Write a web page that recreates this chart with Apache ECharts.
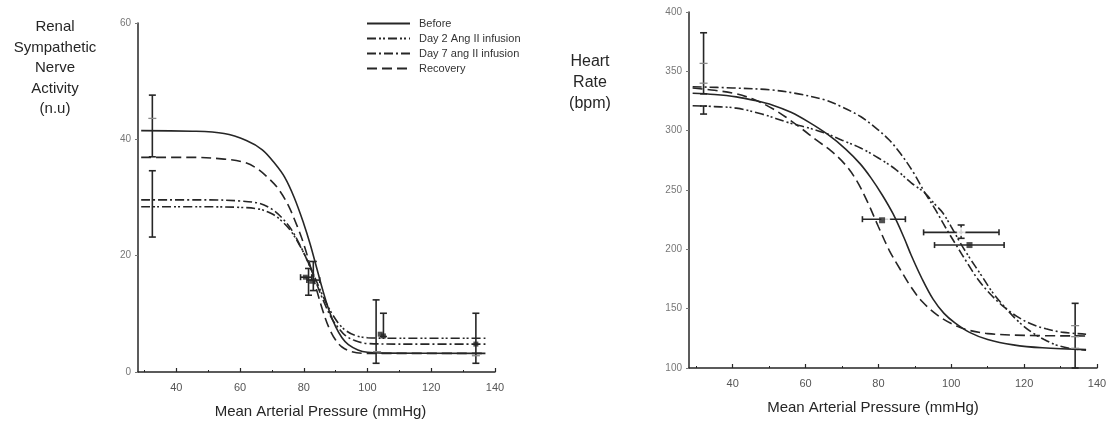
<!DOCTYPE html>
<html><head><meta charset="utf-8">
<script src="https://cdn.jsdelivr.net/npm/echarts@6/dist/echarts.min.js"></script>
<style>html,body{margin:0;padding:0;background:#fff}#c{width:1113px;height:426px}</style>
</head><body><div id="c"></div>
<script>
// ---------- names / ticks ----------
const seriesNames = ['Before', 'Day 2 Ang II infusion', 'Day 7 ang II infusion', 'Recovery'];
const xLabelTicks = [40, 60, 80, 100, 120, 140];
const xMinorTicks = [30, 50, 70, 90, 110, 130];
const rsnaRange = [0, 60, 20];
const hrRange = [100, 400, 50];
const xRange = [28, 140];

// ---------- Left chart: Renal Sympathetic Nerve Activity (n.u) ----------
const rsnaBefore = [[29,41.5],[45,41.4],[55,41],[62,39.8],[67,38.2],[71,35.8],[74,33.5],[77,30],[80,25.5],[82,22],[84,18],[86,14],[88,10.5],[90,7.8],[92,5.9],[94,4.7],[97,3.8],[100,3.4],[105,3.25],[137,3.2]];
const rsnaDay2 = [[29,28.4],[50,28.4],[60,28.3],[66,28],[70,27.2],[73,26],[76,24.2],[79,21.5],[81,19.3],[83,16.9],[85,14.3],[87,11.9],[89,9.9],[91,8.3],[93,7.2],[96,6.3],[100,5.9],[110,5.8],[137,5.8]];
const rsnaDay7 = [[29,29.6],[50,29.6],[60,29.4],[66,29],[70,28],[73,26.6],[76,24.6],[79,21.6],[81,19.3],[83,16.7],[85,13.8],[87,11.2],[89,9],[91,7.5],[93,6.3],[96,5.4],[100,4.9],[110,4.8],[137,4.8]];
const rsnaRecovery = [[29,36.9],[45,36.9],[55,36.6],[61,36.1],[65,35.1],[69,33.3],[72,31.5],[75,28.8],[78,25],[80,22],[82,18.3],[84,14.2],[86,10.5],[88,7.5],[90,5.5],[92,4.3],[95,3.5],[100,3.2],[137,3.2]];
// vertical error bars [x, low, high]
const rsnaVErr = [[32.5,37,47.6],[32.5,23.2,34.6],[81.5,13.2,17.8],[83,14,19],[102.7,1.5,12.4],[105,6.1,10.1],[134,1.5,10.1]];
// horizontal error bars [y, left, right]
const rsnaHErr = [[16.3,79,82.5],[15.8,81,85]];
// faint SEM caps [x, y]
const rsnaCaps = [[32.5,43.6],[103,3.5],[134,2.8]];
// group means [x, y]
const rsnaMeans = [[80.5,16.3],[82.5,15.6],[104,6.5],[105,6.2],[134,4.8]];

// ---------- Right chart: Heart Rate (bpm) ----------
const hrBefore = [[29,331.5],[35,330.5],[41,328.5],[46,325.5],[51,321.5],[56,315.5],[61,307],[66,297],[71,284.5],[75,272],[78,260],[81,246],[84,230],[87,210],[89,195],[92,175],[95,158],[98,146],[101,138],[105,130],[110,124],[117,119.5],[125,117],[137,115.5]];
const hrDay2 = [[29,321],[35,320.3],[41,319],[48,314],[55.6,306.5],[60,303],[65.3,298],[70,292],[75.1,285.4],[80,277],[84.8,267.2],[89,256],[92.7,247.6],[95.5,238],[97.6,231],[100,219],[102.4,205.8],[105,193],[108.3,177.8],[111.5,163],[115.1,149.9],[118.5,139],[122,130.3],[125.5,124],[128.8,119.4],[132.5,116.5],[137,115]];
const hrDay7 = [[29,337],[40,336],[50.7,334.3],[58,331],[65.3,325.9],[70,320],[75.1,311.9],[79,303],[82.9,292.3],[86,281],[89.7,264.3],[92.5,249],[95.6,233.6],[98.5,218],[101.5,202.8],[104.5,188],[107.3,174.8],[110.5,163],[114.1,152.4],[118,143.5],[122,137],[126,133],[130.8,130],[137,128.5]];
const hrRecovery = [[29,336],[35,334],[41,331],[46,326],[51,318.5],[55,310.5],[59,301.5],[63,292],[67,283],[71,271],[74,258],[77,240],[80,219],[83,199],[86,183],[89,168],[92,156],[96,145],[100,137.5],[104,132.5],[110,129],[120,127.5],[137,127]];
const hrVErr = [[32,331,382.5],[32,314,320.8],[102.7,209.3,220.5],[134,100,154.5]];
const hrHErr = [[225.4,75.6,87.4],[214.3,92.4,113.1],[203.6,95.4,114.5]];
const hrCaps = [[32,356.7],[32,340],[134,135.7],[134,126.4],[134,116.6]];
const hrMeansOpen = [[82,225.4],[102.7,214.9]];
const hrMeansFilled = [[81,224.5],[105,203.6]];

// ---------- styling ----------
const INK = '#262626';
const FONT = '"Liberation Sans", Arial, sans-serif';
const lineTypes = ['solid', [9,3,2,2,2,3], [9,3,2,3], [10,5]];

function vErrRender(params, api) {
  const x = api.value(0), lo = api.value(1), hi = api.value(2);
  const a = api.coord([x, lo]), b = api.coord([x, hi]);
  const w = 3.5, st = {stroke: INK, lineWidth: 1.6};
  return {type: 'group', children: [
    {type: 'line', shape: {x1: a[0], y1: a[1], x2: b[0], y2: b[1]}, style: st},
    {type: 'line', shape: {x1: a[0]-w, y1: a[1], x2: a[0]+w, y2: a[1]}, style: st},
    {type: 'line', shape: {x1: b[0]-w, y1: b[1], x2: b[0]+w, y2: b[1]}, style: st}
  ]};
}
function hErrRender(params, api) {
  const y = api.value(0), l = api.value(1), r = api.value(2);
  const a = api.coord([l, y]), b = api.coord([r, y]);
  const h = 3, st = {stroke: INK, lineWidth: 1.6};
  return {type: 'group', children: [
    {type: 'line', shape: {x1: a[0], y1: a[1], x2: b[0], y2: b[1]}, style: st},
    {type: 'line', shape: {x1: a[0], y1: a[1]-h, x2: a[0], y2: a[1]+h}, style: st},
    {type: 'line', shape: {x1: b[0], y1: b[1]-h, x2: b[0], y2: b[1]+h}, style: st}
  ]};
}
function capRender(params, api) {
  const p = api.coord([api.value(0), api.value(1)]);
  return {type: 'line', shape: {x1: p[0]-4, y1: p[1], x2: p[0]+4, y2: p[1]}, style: {stroke: '#8a8a8a', lineWidth: 1.3}};
}

function xAxesFor(gi, nameOffsetX) {
  return [
    {type: 'value', gridIndex: gi, position: 'bottom', min: xRange[0], max: xRange[1],
     name: 'Mean Arterial Pressure (mmHg)', nameLocation: 'middle', nameGap: 32,
     nameTextStyle: {fontFamily: FONT, fontSize: 15, color: INK, padding: [0, 0, 0, nameOffsetX]},
     axisLine: {show: true, lineStyle: {color: INK, width: 1.5}},
     axisTick: {show: true, inside: true, length: 4, customValues: xLabelTicks, lineStyle: {color: INK, width: 1.2}},
     axisLabel: {customValues: xLabelTicks, fontFamily: FONT, fontSize: 11, color: '#555', margin: 10},
     splitLine: {show: false}},
    {type: 'value', gridIndex: gi, position: 'bottom', offset: 0, min: xRange[0], max: xRange[1],
     axisLine: {show: false},
     axisTick: {show: true, inside: true, length: 2, customValues: xMinorTicks, lineStyle: {color: INK, width: 1}},
     axisLabel: {show: false}, splitLine: {show: false}}
  ];
}
function yAxisFor(gi, range) {
  return {type: 'value', gridIndex: gi, min: range[0], max: range[1], interval: range[2],
    axisLine: {show: true, lineStyle: {color: INK, width: 1.5}},
    axisTick: {show: true, inside: false, length: 3, lineStyle: {color: '#777', width: 1}},
    axisLabel: {fontFamily: FONT, fontSize: 10, color: '#777', margin: 7},
    splitLine: {show: false}};
}
function curve(name, data, idx, xi, yi) {
  return {type: 'line', name, data, xAxisIndex: xi, yAxisIndex: yi, smooth: 0.35,
    symbol: 'none', lineStyle: {color: INK, width: 1.6, type: lineTypes[idx]},
    itemStyle: {color: INK}, z: 3};
}

const option = {
  animation: false,
  backgroundColor: '#fff',
  textStyle: {fontFamily: FONT},
  grid: [
    {left: 138, right: 618, top: 23, bottom: 54},
    {left: 689, right: 16, top: 12, bottom: 58}
  ],
  xAxis: [...xAxesFor(0, 8), ...xAxesFor(1, -40)],
  yAxis: [yAxisFor(0, rsnaRange), yAxisFor(1, hrRange)],
  legend: {
    data: seriesNames, orient: 'vertical', left: 361, top: 13,
    itemWidth: 43, itemHeight: 10, itemGap: 4,
    itemStyle: {opacity: 0},
    textStyle: {fontFamily: FONT, fontSize: 11, color: '#333', padding: [0, 0, 0, 4]},
    selectedMode: false
  },
  graphic: [
    {type: 'text', x: 55, y: 17, style: {text: 'Renal\nSympathetic\nNerve\nActivity\n(n.u)', textAlign: 'center', textVerticalAlign: 'top', font: '15px ' + FONT, lineHeight: 20.5, fill: INK}},
    {type: 'text', x: 590, y: 51, style: {text: 'Heart\nRate\n(bpm)', textAlign: 'center', textVerticalAlign: 'top', font: '16px ' + FONT, lineHeight: 21, fill: INK}}
  ],
  series: [
    curve(seriesNames[0], rsnaBefore, 0, 0, 0),
    curve(seriesNames[1], rsnaDay2, 1, 0, 0),
    curve(seriesNames[2], rsnaDay7, 2, 0, 0),
    curve(seriesNames[3], rsnaRecovery, 3, 0, 0),
    curve(seriesNames[0], hrBefore, 0, 2, 1),
    curve(seriesNames[1], hrDay2, 1, 2, 1),
    curve(seriesNames[2], hrDay7, 2, 2, 1),
    curve(seriesNames[3], hrRecovery, 3, 2, 1),
    {type: 'custom', xAxisIndex: 0, yAxisIndex: 0, renderItem: vErrRender, data: rsnaVErr, z: 4, silent: true},
    {type: 'custom', xAxisIndex: 0, yAxisIndex: 0, renderItem: hErrRender, data: rsnaHErr, z: 4, silent: true},
    {type: 'custom', xAxisIndex: 0, yAxisIndex: 0, renderItem: capRender, data: rsnaCaps, z: 4, silent: true},
    {type: 'scatter', xAxisIndex: 0, yAxisIndex: 0, data: rsnaMeans, symbol: 'rect', symbolSize: 5, itemStyle: {color: INK}, z: 5, silent: true},
    {type: 'custom', xAxisIndex: 2, yAxisIndex: 1, renderItem: vErrRender, data: hrVErr, z: 4, silent: true},
    {type: 'custom', xAxisIndex: 2, yAxisIndex: 1, renderItem: hErrRender, data: hrHErr, z: 4, silent: true},
    {type: 'custom', xAxisIndex: 2, yAxisIndex: 1, renderItem: capRender, data: hrCaps, z: 4, silent: true},
    {type: 'scatter', xAxisIndex: 2, yAxisIndex: 1, data: hrMeansOpen, symbol: 'emptyCircle', symbolSize: 7, itemStyle: {color: '#fff', borderColor: INK, borderWidth: 1.3}, z: 5, silent: true},
    {type: 'scatter', xAxisIndex: 2, yAxisIndex: 1, data: hrMeansFilled, symbol: 'rect', symbolSize: 6, itemStyle: {color: INK}, z: 5, silent: true}
  ]
};
const chart = echarts.init(document.getElementById('c'), null, {renderer: 'canvas'});
chart.setOption(option);
</script>
</body></html>
